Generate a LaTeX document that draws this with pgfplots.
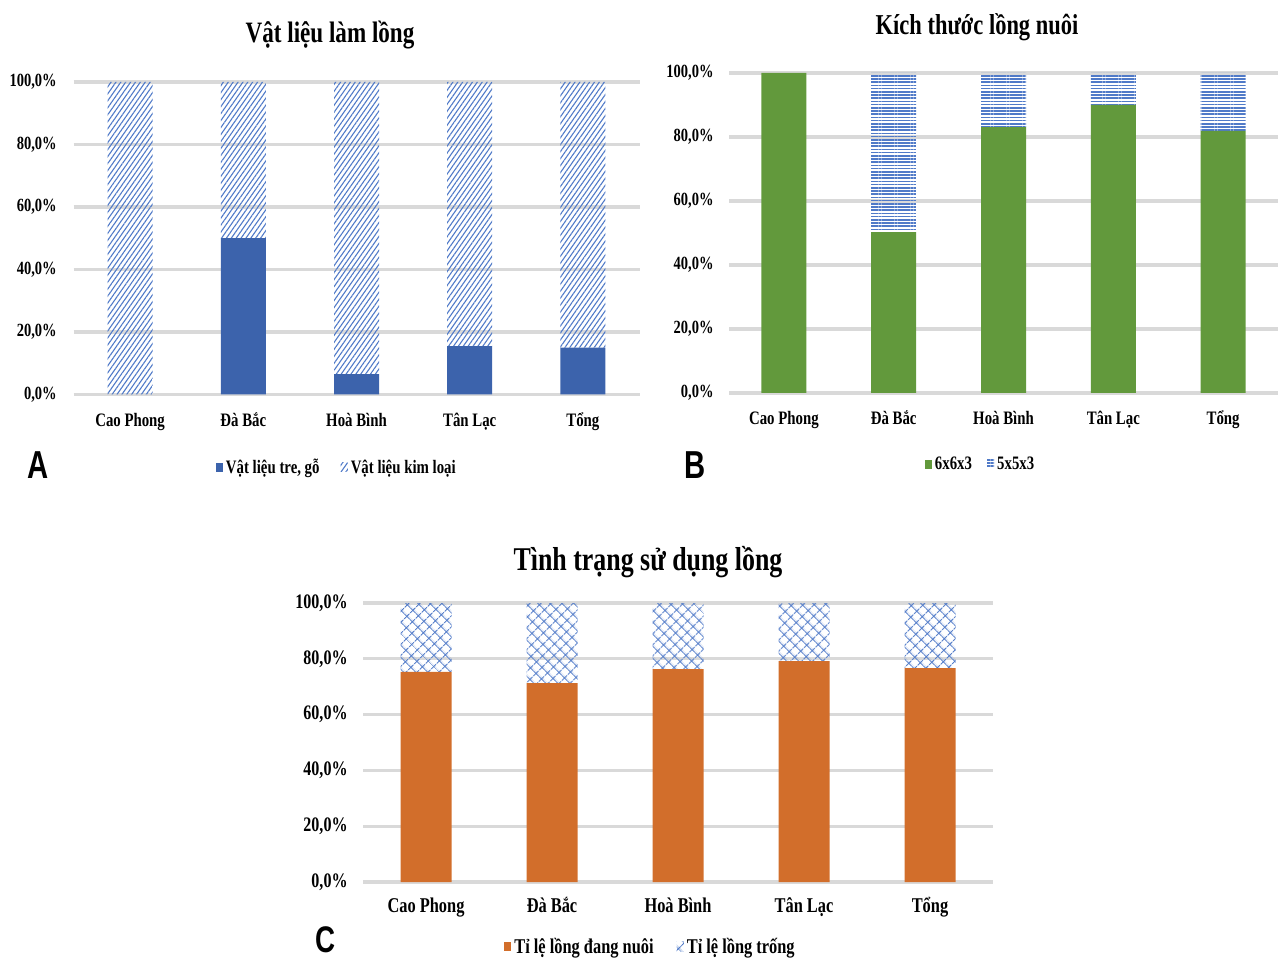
\documentclass[border=0pt]{standalone}
\usepackage{pgfplots}
\pgfplotsset{compat=1.18}
\usepackage{fontspec}
\setmainfont{Liberation Serif}[FakeStretch=0.78]
\newfontfamily\panelfont{Liberation Sans}[FakeStretch=0.75]
\usetikzlibrary{patterns.meta}
\definecolor{barblue}{RGB}{60,99,172}
\definecolor{patblue}{RGB}{80,122,200}
\definecolor{bargreen}{RGB}{98,153,60}
\definecolor{barorange}{RGB}{210,110,43}
\definecolor{gridgray}{RGB}{217,217,217}
\pgfplotsset{
  panel/.style={
    scale only axis,
    xmin=-0.5, xmax=4.5, ymin=0, ymax=100,
    enlargelimits=false,
    ybar stacked,
    axis line style={draw=none},
    tick style={draw=none},
    ymajorgrids,
    grid style={gridgray, line width=1.6pt},
    xtick={0,1,2,3,4},
    xticklabels={Cao Phong, Đà Bắc, Hoà Bình, Tân Lạc, Tổng},
    ytick={0,20,40,60,80,100},
    yticklabels={{0,0\%},{20,0\%},{40,0\%},{60,0\%},{80,0\%},{100,0\%}},
    legend columns=2,
    legend image code/.code={\path[##1] (0pt,-2pt) rectangle (3.6pt,2.6pt);},
  },
}
\begin{document}
\begin{tikzpicture}
\path[use as bounding box] (0,0) rectangle (639pt,479.5pt);

% ---------- Panel A ----------
\begin{axis}[panel,
  at={(36.75pt,282.25pt)}, anchor=south west,
  width=283pt, height=156.25pt,
  bar width=22.5pt,
  yticklabel style={font=\bfseries\fontsize{9.3}{11}\selectfont, anchor=east, inner sep=0pt, xshift=-8.2pt},
  xticklabel style={font=\bfseries\fontsize{9.5}{11}\selectfont, anchor=base, inner sep=0pt, yshift=-16pt},
  legend style={at={(axis description cs:0.466,-0.235)}, anchor=center, draw=none, fill=none,
    font=\bfseries\fontsize{9.5}{11}\selectfont, inner sep=0pt,
    /tikz/every even column/.append style={column sep=9pt},
    nodes={inner sep=1.5pt}},
]
\addplot[fill=barblue, draw=none] coordinates {(0,0) (1,50) (2,6.5) (3,15.5) (4,15)};
\addplot[draw=none, pattern={Lines[angle=55,distance=2pt,line width=0.55pt]}, pattern color=patblue]
  coordinates {(0,100) (1,50) (2,93.5) (3,84.5) (4,85)};
\legend{{Vật liệu tre, gỗ}, Vật liệu kim loại}
\end{axis}

% ---------- Panel B ----------
\begin{axis}[panel,
  at={(364.5pt,283pt)}, anchor=south west,
  width=274.5pt, height=160pt,
  bar width=22.5pt,
  yticklabel style={font=\bfseries\fontsize{9.3}{11}\selectfont, anchor=east, inner sep=0pt, xshift=-7.5pt},
  xticklabel style={font=\bfseries\fontsize{9.5}{11}\selectfont, anchor=base, inner sep=0pt, yshift=-16pt},
  legend style={at={(axis description cs:0.459,-0.225)}, anchor=center, draw=none, fill=none,
    font=\bfseries\fontsize{9.5}{11}\selectfont, inner sep=0pt,
    /tikz/every even column/.append style={column sep=6pt},
    nodes={inner sep=1.5pt}},
]
\addplot[fill=bargreen, draw=none] coordinates {(0,100) (1,50.3) (2,83.1) (3,90) (4,81.9)};
\addplot[draw=none, pattern={Lines[angle=0,distance=1.6pt,line width=0.75pt]}, pattern color=patblue]
  coordinates {(0,0) (1,49.7) (2,16.9) (3,10) (4,18.1)};
\legend{6x6x3, 5x5x3}
\end{axis}

% ---------- Panel C ----------
\begin{axis}[panel,
  at={(181.5pt,38.5pt)}, anchor=south west,
  width=315pt, height=139.5pt,
  bar width=25.5pt,
  yticklabel style={font=\bfseries\fontsize{10.3}{12}\selectfont, anchor=east, inner sep=0pt, xshift=-7.5pt},
  xticklabel style={font=\bfseries\fontsize{10.5}{12}\selectfont, anchor=base, inner sep=0pt, yshift=-15pt},
  legend style={at={(axis description cs:0.457,-0.233)}, anchor=center, draw=none, fill=none,
    font=\bfseries\fontsize{10.5}{12}\selectfont, inner sep=0pt,
    /tikz/every even column/.append style={column sep=10pt},
    nodes={inner sep=1.5pt}},
]
\addplot[fill=barorange, draw=none] coordinates {(0,75.3) (1,71.3) (2,76.3) (3,79.2) (4,76.7)};
\addplot[draw=none, pattern={Hatch[angle=45,distance=4pt,line width=0.5pt]}, pattern color=patblue]
  coordinates {(0,24.7) (1,28.7) (2,23.7) (3,20.8) (4,23.3)};
\legend{Tỉ lệ lồng đang nuôi, Tỉ lệ lồng trống}
\end{axis}

% ---------- Titles and panel letters ----------
\node[font=\bfseries\fontsize{14.8}{17}\selectfont] at (165pt,462pt) {Vật liệu làm lồng};
\node[font=\bfseries\fontsize{14.4}{17}\selectfont] at (488.5pt,466pt) {Kích thước lồng nuôi};
\node[font=\bfseries\fontsize{16.6}{19}\selectfont] at (324pt,198.5pt) {Tình trạng sử dụng lồng};
\node[font=\panelfont\bfseries\fontsize{19.5}{22}\selectfont] at (19pt,247pt) {A};
\node[font=\panelfont\bfseries\fontsize{19.5}{22}\selectfont] at (347.5pt,247pt) {B};
\node[font=\panelfont\bfseries\fontsize{18.5}{21}\selectfont] at (163pt,9.5pt) {C};
\end{tikzpicture}
\end{document}
